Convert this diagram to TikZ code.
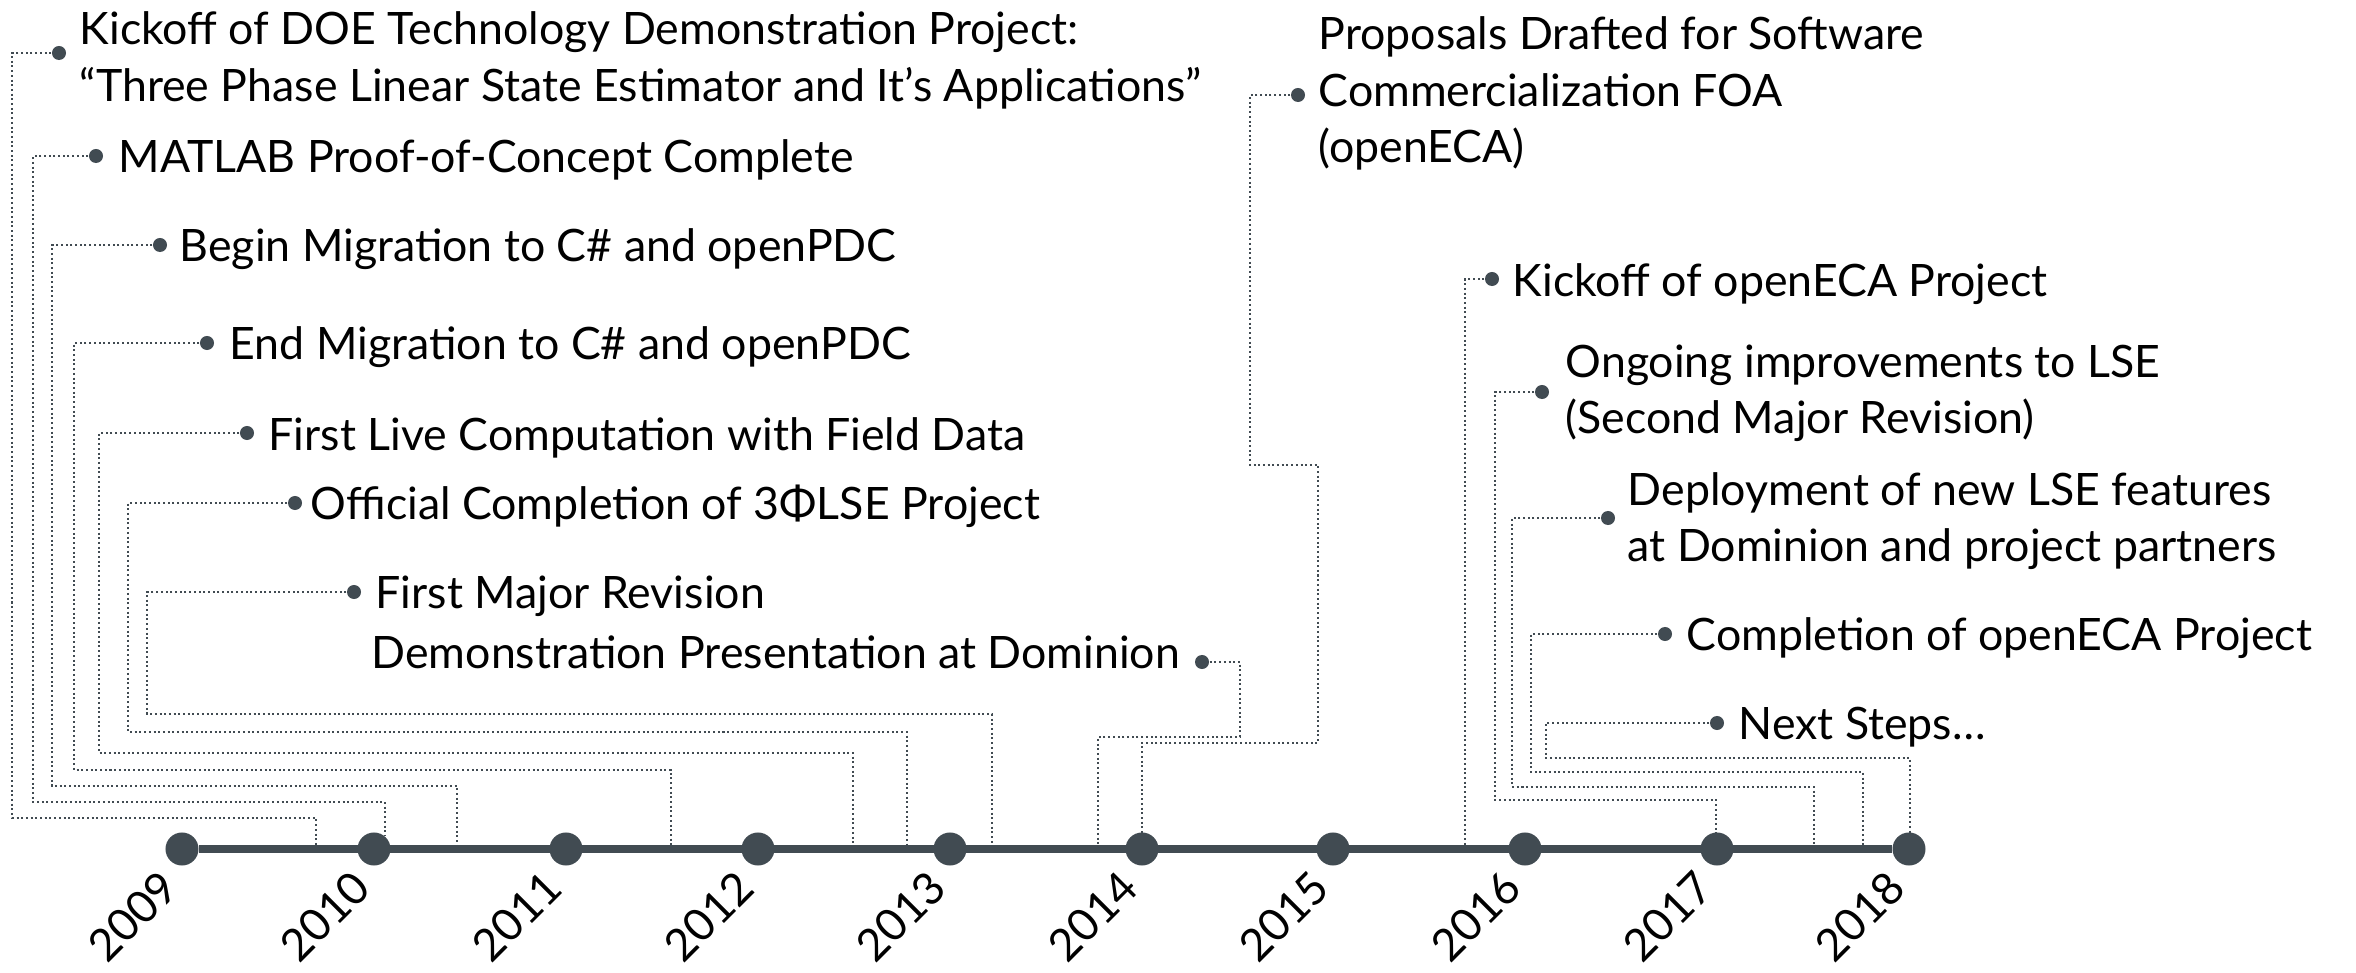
\documentclass[tikz,border=0pt]{standalone}
\usepackage{fontspec}
\setmainfont{Lato}
\definecolor{slate}{RGB}{65,75,82}
\tikzset{
  bigdot/.style={circle,fill=slate,inner sep=0pt,minimum size=0.33cm},
  evdot/.style={circle,fill=slate,inner sep=0pt,minimum size=0.14cm},
  evt/.style={inner sep=0pt,anchor=base west},
  yr/.style={rotate=45,anchor=east,inner sep=0pt},
  link/.style={slate,line width=0.02cm,dash pattern=on 0.02cm off 0.027cm}
}

\begin{document}
\begin{tikzpicture}[x=0.01cm,y=-0.01cm,font=\fontsize{12.7}{16}\selectfont]
%\draw (0,0) grid[step=100] (2356,973);
\useasboundingbox (0,0) rectangle (2356,973);

\node[bigdot] (y2009) at (182,849) {};
\node[bigdot] (y2010) at (374,849) {};
\node[bigdot] (y2011) at (566,849) {};
\node[bigdot] (y2012) at (758,849) {};
\node[bigdot] (y2013) at (950,849) {};
\node[bigdot] (y2014) at (1142,849) {};
\node[bigdot] (y2015) at (1333,849) {};
\node[bigdot] (y2016) at (1525,849) {};
\node[bigdot] (y2017) at (1717,849) {};
\node[bigdot] (y2018) at (1909,849) {};
\draw[slate,line width=0.07cm] (y2009) -- (y2018);

\node[yr] (l2009) at (170,879) {2009};
\node[yr] (l2010) at (362,879) {2010};
\node[yr] (l2011) at (554,879) {2011};
\node[yr] (l2012) at (746,879) {2012};
\node[yr] (l2013) at (938,879) {2013};
\node[yr] (l2014) at (1130,879) {2014};
\node[yr] (l2015) at (1321,879) {2015};
\node[yr] (l2016) at (1513,879) {2016};
\node[yr] (l2017) at (1705,879) {2017};
\node[yr] (l2018) at (1897,879) {2018};

% left group
\node[evdot] (e1) at (59,53) {};
\node[evt] (t1) at (79,45) {\begin{tabular}[t]{@{}l@{}}Kickoff of DOE Technology Demonstration Project:\\``Three Phase Linear State Estimator and It's Applications''\end{tabular}};
\node[evdot] (e2) at (96,156) {};
\node[evt] (t2) at (118,173) {MATLAB Proof-of-Concept Complete};
\node[evdot] (e3) at (160,245) {};
\node[evt] (t3) at (179,262) {Begin Migration to C\# and openPDC};
\node[evdot] (e4) at (207,343) {};
\node[evt] (t4) at (229,360) {End Migration to C\# and openPDC};
\node[evdot] (e5) at (247,433) {};
\node[evt] (t5) at (268,450) {First Live Computation with Field Data};
\node[evdot] (e6) at (295,503) {};
\node[evt] (t6) at (310,520) {Official Completion of 3ΦLSE Project};
\node[evdot] (e7) at (354,592) {};
\node[evt] (t7) at (375,609) {First Major Revision};
\node[evdot] (e8) at (1202,662) {};
\node[evt] (t8) at (371,669) {Demonstration Presentation at Dominion};

% right group
\node[evdot] (e9) at (1298,95) {};
\node[evt] (t9) at (1318,50) {\begin{tabular}[t]{@{}l@{}}Proposals Drafted for Software\\Commercialization FOA\\(openECA)\end{tabular}};
\node[evdot] (e10) at (1492,279) {};
\node[evt] (t10) at (1512,297) {Kickoff of openECA Project};
\node[evdot] (e11) at (1542,392) {};
\node[evt] (t11) at (1565,377) {\begin{tabular}[t]{@{}l@{}}Ongoing improvements to LSE\\(Second Major Revision)\end{tabular}};
\node[evdot] (e12) at (1608,518) {};
\node[evt] (t12) at (1627,505) {\begin{tabular}[t]{@{}l@{}}Deployment of new LSE features\\at Dominion and project partners\end{tabular}};
\node[evdot] (e13) at (1665,634) {};
\node[evt] (t13) at (1686,650) {Completion of openECA Project};
\node[evdot] (e14) at (1717,723) {};
\node[evt] (t14) at (1738,739) {Next Steps\ldots};

\coordinate (a1) at (316,846);
\coordinate (a2) at (385,836);
\coordinate (a3) at (457,846);
\coordinate (a4) at (671,846);
\coordinate (a5) at (853,846);
\coordinate (a6) at (907,846);
\coordinate (a7) at (992,846);
\coordinate (a8) at (1098,846);
\coordinate (a9) at (1142,833);
\coordinate (a10) at (1465,846);
\coordinate (a11) at (1716,833);
\coordinate (a12) at (1814,846);
\coordinate (a13) at (1863,846);
\coordinate (a14) at (1910,833);

\draw[link] (e1) -- (12,53) -- (12,818) -- (316,818) -- (a1);
\draw[link] (e2) -- (33,156) -- (33,802) -- (385,802) -- (a2);
\draw[link] (e3) -- (52,245) -- (52,786) -- (457,786) -- (a3);
\draw[link] (e4) -- (74,343) -- (74,770) -- (671,770) -- (a4);
\draw[link] (e5) -- (99,433) -- (99,753) -- (853,753) -- (a5);
\draw[link] (e6) -- (128,503) -- (128,732) -- (907,732) -- (a6);
\draw[link] (e7) -- (147,592) -- (147,714) -- (992,714) -- (a7);
\draw[link] (e8) -- (1240,662) -- (1240,737) -- (1098,737) -- (a8);
\draw[link] (e9) -- (1250,95) -- (1250,465) -- (1318,465) -- (1318,743) -- (1142,743) -- (a9);
\draw[link] (e10) -- (1465,279) -- (a10);
\draw[link] (e11) -- (1495,392) -- (1495,800) -- (1716,800) -- (a11);
\draw[link] (e12) -- (1512,518) -- (1512,787) -- (1814,787) -- (a12);
\draw[link] (e13) -- (1531,634) -- (1531,772) -- (1863,772) -- (a13);
\draw[link] (e14) -- (1546,723) -- (1546,758) -- (1910,758) -- (a14);
\end{tikzpicture}
\end{document}
